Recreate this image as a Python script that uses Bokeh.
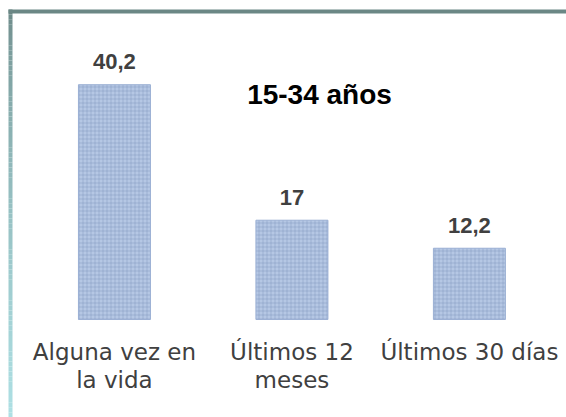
import numpy as np
from bokeh.plotting import figure
from bokeh.models import Range1d, ColumnDataSource
from bokeh.core.properties import value
from bokeh.embed import file_html
from bokeh.resources import INLINE

# ---- data ----
categories = ["Alguna vez en\nla vida", "Últimos 12\nmeses", "Últimos 30 días"]
values = [40.2, 17, 12.2]
value_labels = ["40,2", "17", "12,2"]
title_text = "15-34 años"

# ---- layout ----
W, H = 566, 417
X0, X1 = -0.642, 2.547
Y0, Y1 = -16.78, 54.62
ppx = W / (X1 - X0)
ppu = H / (Y1 - Y0)

p = figure(width=W, height=H, x_range=Range1d(X0, X1), y_range=Range1d(Y0, Y1),
           output_backend="svg", toolbar_location=None, min_border=0,
           x_axis_location=None, y_axis_location=None)
p.grid.visible = False
p.outline_line_color = None
p.background_fill_color = "white"
p.border_fill_color = "white"

# frame decoration: top line and gradient left line
p.quad(left=X0 + 8 / ppx, right=X1, top=Y1 - 9 / ppu, bottom=Y1 - 13 / ppu,
       fill_color="#6b8785", line_color=None)
n = 80
edges = np.linspace(Y1 - 9 / ppu, Y0, n + 1)
t = np.linspace(0, 1, n) ** 0.6
c0 = np.array([107, 135, 133])
c1 = np.array([174, 224, 228])
cols = ["#%02x%02x%02x" % tuple(int(v) for v in (c0 + (c1 - c0) * tt)) for tt in t]
p.quad(left=X0 + 8 / ppx, right=X0 + 12 / ppx, top=edges[:-1], bottom=edges[1:],
       fill_color=cols, line_color=None)

# bars
xs = np.arange(len(categories))
src = ColumnDataSource(dict(x=xs, top=values, lab=value_labels,
                            ly=np.array(values) + 23 / ppu))
p.vbar(x="x", top="top", bottom=0, width=72 / ppx, source=src,
       fill_color="#b5c7e4", line_color="#9bb0d4", line_width=1,
       hatch_pattern="+", hatch_color="#7f95bf", hatch_alpha=0.45,
       hatch_scale=4, hatch_weight=1)

# value labels
p.text(x="x", y="ly", text="lab", source=src,
       text_font=value("Liberation Sans"), text_font_style="bold",
       text_font_size="22px", text_color="#404040",
       text_align="center", text_baseline="alphabetic")

# category labels (two lines)
line1 = [c.split("\n")[0] for c in categories]
line2 = [c.split("\n")[1] if "\n" in c else "" for c in categories]
for lines, off in ((line1, 33), (line2, 61)):
    p.text(x=xs, y=[-off / ppu] * len(xs), text=lines,
           text_font=value("DejaVu Sans"), text_font_size="23px",
           text_color="#404040", text_align="center", text_baseline="alphabetic")

# title
p.text(x=[X0 + 319 / ppx], y=[Y1 - 94 / ppu], text=[title_text],
       text_font=value("Liberation Sans"), text_font_style="bold",
       text_font_size="28px", text_color="#000000",
       text_align="center", text_baseline="alphabetic")

open("out.html", "w").write(file_html(p, INLINE))
